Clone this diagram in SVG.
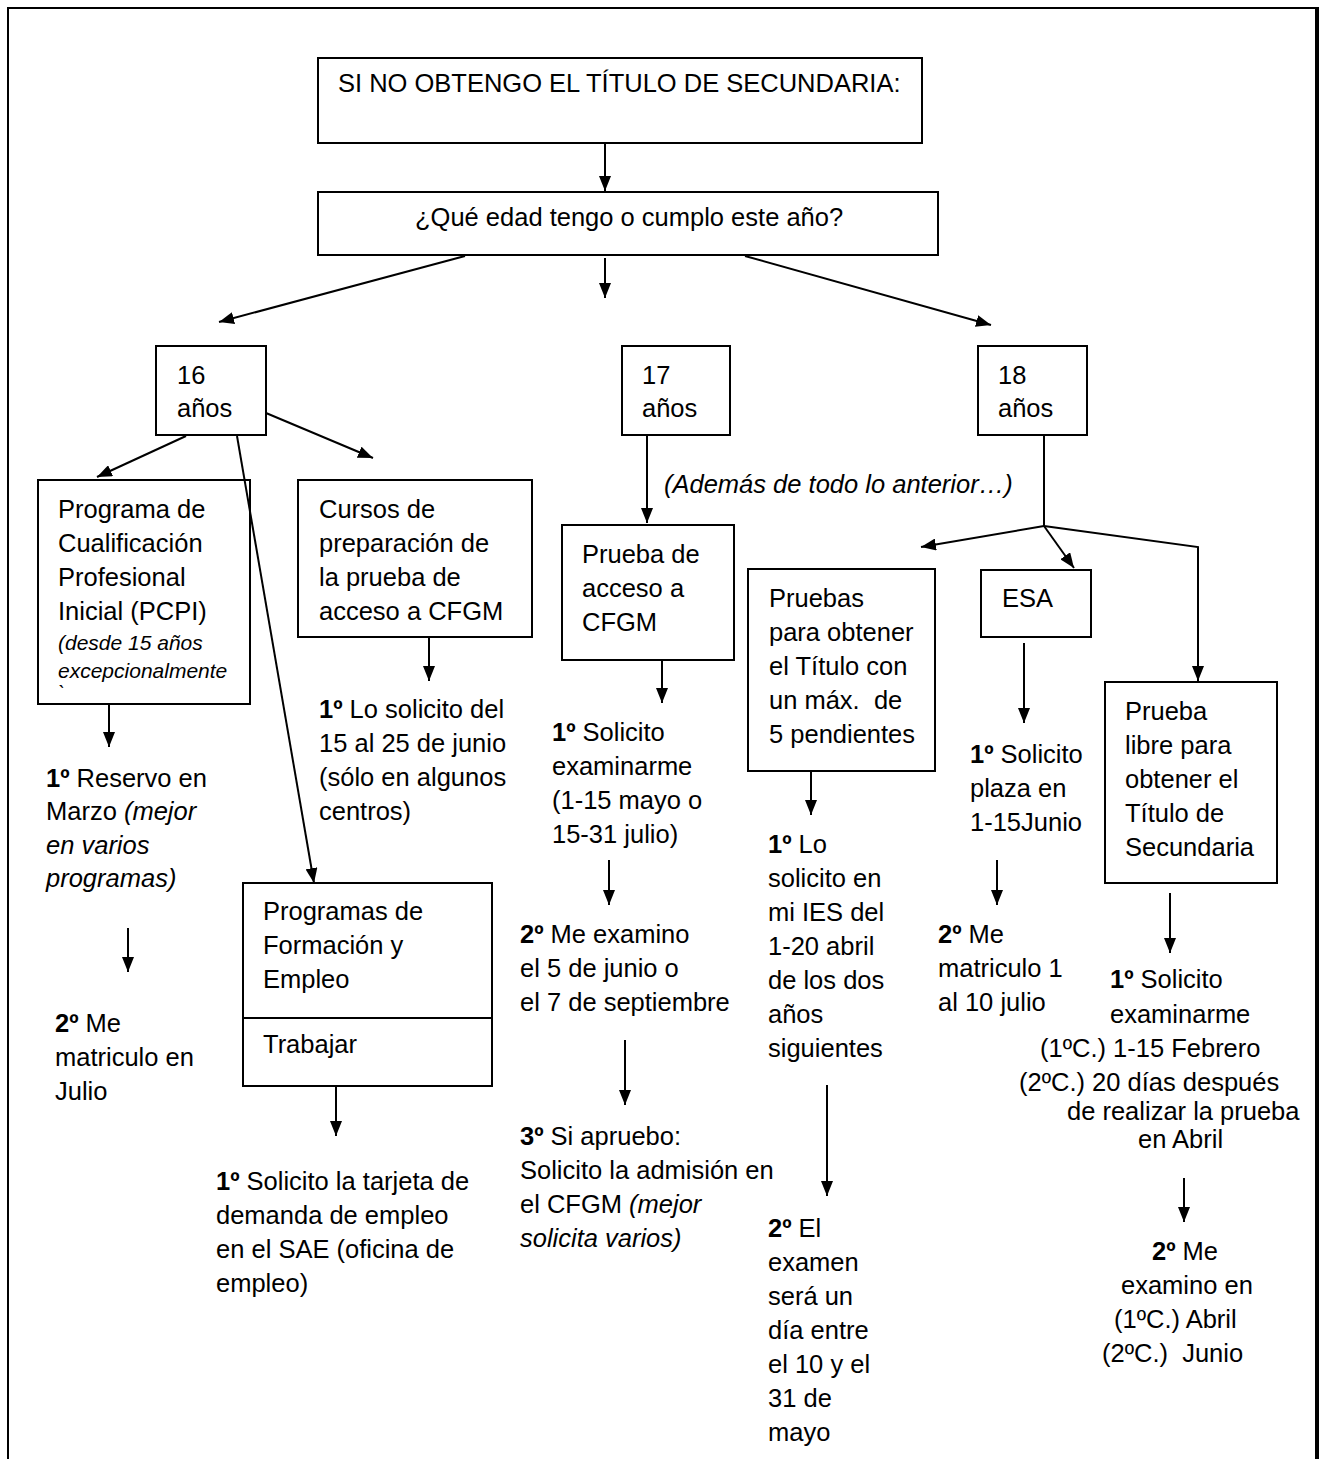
<svg xmlns="http://www.w3.org/2000/svg" width="1322" height="1459" viewBox="0 0 1322 1459">
<style>
.t{font-family:"Liberation Sans",Arial,sans-serif;font-size:25.5px;fill:#000}
.i{font-style:italic}
.s{font-size:21px}
.b{font-weight:bold}
.box{fill:none;stroke:#000;stroke-width:2}
.c{fill:none;stroke:#000;stroke-width:2}
</style>
<defs>
<marker id="ah" markerUnits="userSpaceOnUse" markerWidth="16" markerHeight="12" refX="15" refY="6" orient="auto">
<path d="M0,0 L15,6 L0,12 z" fill="#000"/>
</marker>
</defs>
<rect width="1322" height="1459" fill="#fff"/>
<g id="frame">
<path d="M8,1459 L8,8 L1317,8" fill="none" stroke="#000" stroke-width="2"/>
<path d="M1317,7 L1317,1459" fill="none" stroke="#000" stroke-width="4"/>
</g>
<g id="connectors">
<path class="c" d="M605,143 L605,191" marker-end="url(#ah)"/>
<path class="c" d="M465,256 L219,322" marker-end="url(#ah)"/>
<path class="c" d="M605,258 L605,298" marker-end="url(#ah)"/>
<path class="c" d="M745,256 L991,325" marker-end="url(#ah)"/>
<path class="c" d="M186,436 L97,477" marker-end="url(#ah)"/>
<path class="c" d="M266,413 L373,458" marker-end="url(#ah)"/>
<path class="c" d="M237,436 L314,883" marker-end="url(#ah)"/>
<path class="c" d="M109,704 L109,747" marker-end="url(#ah)"/>
<path class="c" d="M128,928 L128,972" marker-end="url(#ah)"/>
<path class="c" d="M429,637 L429,681" marker-end="url(#ah)"/>
<path class="c" d="M336,1086 L336,1136" marker-end="url(#ah)"/>
<path class="c" d="M647,436 L647,523" marker-end="url(#ah)"/>
<path class="c" d="M662,660 L662,703" marker-end="url(#ah)"/>
<path class="c" d="M609,860 L609,905" marker-end="url(#ah)"/>
<path class="c" d="M625,1040 L625,1105" marker-end="url(#ah)"/>
<path class="c" d="M1044,436 L1044,526"/>
<path class="c" d="M1044,526 L921,547" marker-end="url(#ah)"/>
<path class="c" d="M1044,526 L1074,568" marker-end="url(#ah)"/>
<path class="c" d="M1044,526 L1198,547 L1198,681" marker-end="url(#ah)"/>
<path class="c" d="M811,771 L811,815" marker-end="url(#ah)"/>
<path class="c" d="M827,1085 L827,1196" marker-end="url(#ah)"/>
<path class="c" d="M1024,643 L1024,723" marker-end="url(#ah)"/>
<path class="c" d="M997,860 L997,905" marker-end="url(#ah)"/>
<path class="c" d="M1170,893 L1170,953" marker-end="url(#ah)"/>
<path class="c" d="M1184,1178 L1184,1222" marker-end="url(#ah)"/>
</g>
<g id="n-titulo">
<rect class="box" x="318" y="58" width="604" height="85"/>
<text class="t" x="338" y="92">SI NO OBTENGO EL TÍTULO DE SECUNDARIA:</text>
</g>
<g id="n-edad">
<rect class="box" x="318" y="192" width="620" height="63"/>
<text class="t" x="415" y="226">¿Qué edad tengo o cumplo este año?</text>
</g>
<g id="n-16">
<rect class="box" x="156" y="346" width="110" height="89"/>
<text class="t" x="177" y="384">16</text>
<text class="t" x="177" y="417">años</text>
</g>
<g id="n-17">
<rect class="box" x="622" y="346" width="108" height="89"/>
<text class="t" x="642" y="384">17</text>
<text class="t" x="642" y="417">años</text>
</g>
<g id="n-18">
<rect class="box" x="978" y="346" width="109" height="89"/>
<text class="t" x="998" y="384">18</text>
<text class="t" x="998" y="417">años</text>
</g>
<g id="n-pcpi">
<rect class="box" x="38" y="480" width="212" height="224"/>
<text class="t" x="58" y="518">Programa de</text>
<text class="t" x="58" y="552">Cualificación</text>
<text class="t" x="58" y="586">Profesional</text>
<text class="t" x="58" y="620">Inicial (PCPI)</text>
<text class="t i s" x="58" y="650">(desde 15 años</text>
<text class="t i s" x="58" y="678">excepcionalmente</text>
<text class="t i s" x="58" y="700">`</text>
</g>
<g id="n-pcpi-1">
<text class="t" x="46" y="787"><tspan class="b">1º</tspan> Reservo en</text>
<text class="t" x="46" y="820">Marzo <tspan class="i">(mejor</tspan></text>
<text class="t i" x="46" y="854">en varios</text>
<text class="t i" x="46" y="887">programas)</text>
</g>
<g id="n-pcpi-2">
<text class="t" x="55" y="1032"><tspan class="b">2º</tspan> Me</text>
<text class="t" x="55" y="1066">matriculo en</text>
<text class="t" x="55" y="1100">Julio</text>
</g>
<g id="n-cursos">
<rect class="box" x="298" y="480" width="234" height="157"/>
<text class="t" x="319" y="518">Cursos de</text>
<text class="t" x="319" y="552">preparación de</text>
<text class="t" x="319" y="586">la prueba de</text>
<text class="t" x="319" y="620">acceso a CFGM</text>
</g>
<g id="n-cursos-1">
<text class="t" x="319" y="718"><tspan class="b">1º</tspan> Lo solicito del</text>
<text class="t" x="319" y="752">15 al 25 de junio</text>
<text class="t" x="319" y="786">(sólo en algunos</text>
<text class="t" x="319" y="820">centros)</text>
</g>
<g id="n-programas">
<rect class="box" x="243" y="883" width="249" height="203"/>
<line x1="243" y1="1018" x2="492" y2="1018" stroke="#000" stroke-width="2"/>
<text class="t" x="263" y="920">Programas de</text>
<text class="t" x="263" y="954">Formación y</text>
<text class="t" x="263" y="988">Empleo</text>
<text class="t" x="263" y="1053">Trabajar</text>
</g>
<g id="n-programas-1">
<text class="t" x="216" y="1190"><tspan class="b">1º</tspan> Solicito la tarjeta de</text>
<text class="t" x="216" y="1224">demanda de empleo</text>
<text class="t" x="216" y="1258">en el SAE (oficina de</text>
<text class="t" x="216" y="1292">empleo)</text>
</g>
<g id="n-ademas">
<text class="t i" x="664" y="493">(Además de todo lo anterior…)</text>
</g>
<g id="n-prueba-acceso">
<rect class="box" x="562" y="525" width="172" height="135"/>
<text class="t" x="582" y="563">Prueba de</text>
<text class="t" x="582" y="597">acceso a</text>
<text class="t" x="582" y="631">CFGM</text>
</g>
<g id="n-acceso-1">
<text class="t" x="552" y="741"><tspan class="b">1º</tspan> Solicito</text>
<text class="t" x="552" y="775">examinarme</text>
<text class="t" x="552" y="809">(1-15 mayo o</text>
<text class="t" x="552" y="843">15-31 julio)</text>
</g>
<g id="n-acceso-2">
<text class="t" x="520" y="943"><tspan class="b">2º</tspan> Me examino</text>
<text class="t" x="520" y="977">el 5 de junio o</text>
<text class="t" x="520" y="1011">el 7 de septiembre</text>
</g>
<g id="n-acceso-3">
<text class="t" x="520" y="1145"><tspan class="b">3º</tspan> Si apruebo:</text>
<text class="t" x="520" y="1179">Solicito la admisión en</text>
<text class="t" x="520" y="1213">el CFGM <tspan class="i">(mejor</tspan></text>
<text class="t i" x="520" y="1247">solicita varios)</text>
</g>
<g id="n-pruebas">
<rect class="box" x="748" y="569" width="187" height="202"/>
<text class="t" x="769" y="607">Pruebas</text>
<text class="t" x="769" y="641">para obtener</text>
<text class="t" x="769" y="675">el Título con</text>
<text class="t" x="769" y="709" xml:space="preserve">un máx.  de</text>
<text class="t" x="769" y="743">5 pendientes</text>
</g>
<g id="n-pruebas-1">
<text class="t" x="768" y="853"><tspan class="b">1º</tspan> Lo</text>
<text class="t" x="768" y="887">solicito en</text>
<text class="t" x="768" y="921">mi IES del</text>
<text class="t" x="768" y="955">1-20 abril</text>
<text class="t" x="768" y="989">de los dos</text>
<text class="t" x="768" y="1023">años</text>
<text class="t" x="768" y="1057">siguientes</text>
</g>
<g id="n-pruebas-2">
<text class="t" x="768" y="1237"><tspan class="b">2º</tspan> El</text>
<text class="t" x="768" y="1271">examen</text>
<text class="t" x="768" y="1305">será un</text>
<text class="t" x="768" y="1339">día entre</text>
<text class="t" x="768" y="1373">el 10 y el</text>
<text class="t" x="768" y="1407">31 de</text>
<text class="t" x="768" y="1441">mayo</text>
</g>
<g id="n-esa">
<rect class="box" x="981" y="570" width="110" height="67"/>
<text class="t" x="1002" y="607">ESA</text>
</g>
<g id="n-esa-1">
<text class="t" x="970" y="763"><tspan class="b">1º</tspan> Solicito</text>
<text class="t" x="970" y="797">plaza en</text>
<text class="t" x="970" y="831">1-15Junio</text>
</g>
<g id="n-esa-2">
<text class="t" x="938" y="943"><tspan class="b">2º</tspan> Me</text>
<text class="t" x="938" y="977">matriculo 1</text>
<text class="t" x="938" y="1011">al 10 julio</text>
</g>
<g id="n-libre">
<rect class="box" x="1105" y="682" width="172" height="201"/>
<text class="t" x="1125" y="720">Prueba</text>
<text class="t" x="1125" y="754">libre para</text>
<text class="t" x="1125" y="788">obtener el</text>
<text class="t" x="1125" y="822">Título de</text>
<text class="t" x="1125" y="856">Secundaria</text>
</g>
<g id="n-libre-1">
<text class="t" x="1110" y="988"><tspan class="b">1º</tspan> Solicito</text>
<text class="t" x="1110" y="1023">examinarme</text>
<text class="t" x="1040" y="1057">(1ºC.) 1-15 Febrero</text>
<text class="t" x="1019" y="1091">(2ºC.) 20 días después</text>
<text class="t" x="1067" y="1120">de realizar la prueba</text>
<text class="t" x="1138" y="1148">en Abril</text>
</g>
<g id="n-libre-2">
<text class="t" x="1152" y="1260"><tspan class="b">2º</tspan> Me</text>
<text class="t" x="1121" y="1294">examino en</text>
<text class="t" x="1114" y="1328">(1ºC.) Abril</text>
<text class="t" x="1102" y="1362" xml:space="preserve">(2ºC.)  Junio</text>
</g>
</svg>
